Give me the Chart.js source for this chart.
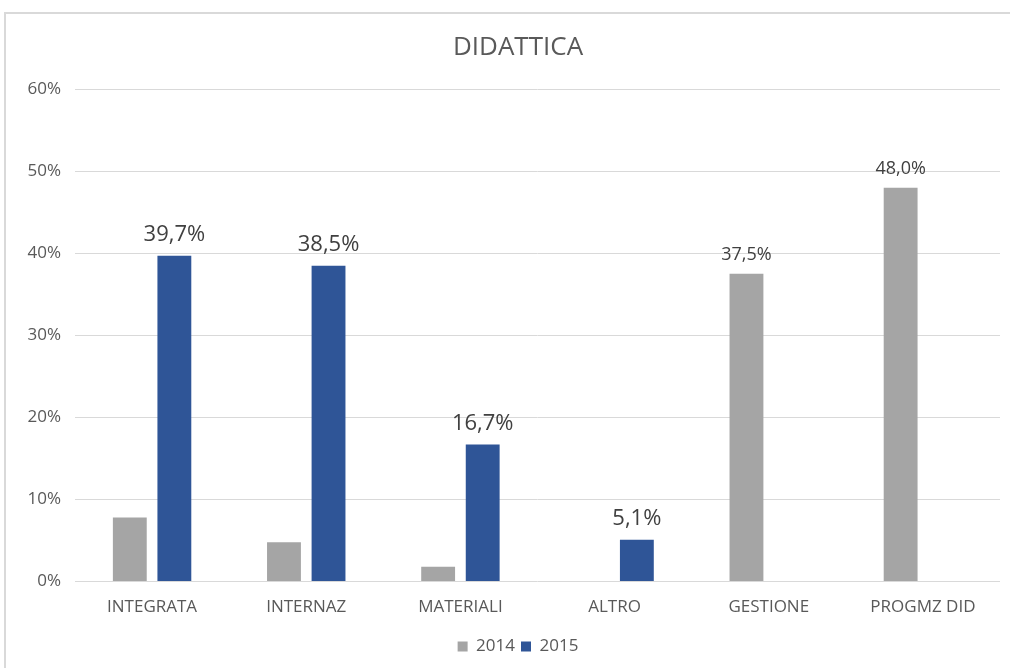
<!DOCTYPE html>
<html lang="it">
<head>
  <meta charset="UTF-8">
  <title>DIDATTICA</title>
  <script src="https://cdn.jsdelivr.net/npm/chart.js"></script>
  <style>
    * { box-sizing: border-box; margin: 0; padding: 0; }
    body { width: 1010px; height: 668px; background: #fff; overflow: hidden; position: relative; }
    .frame {
      position: absolute; left: 4px; top: 12px; width: 1040px; height: 700px;
      border: 2px solid #d9d9d9;
    }
    /* chart frame is wider than the window in the original, title/legend are centred on it */
    #chart-box { position: absolute; left: 0; top: 0; width: 1036px; height: 668px; }
  </style>
</head>
<body>
  <div class="frame"></div>
  <div id="chart-box">
    <canvas id="didattica"></canvas>
  </div>

  <script>
    // Data
    const categories = ['INTEGRATA', 'INTERNAZ', 'MATERIALI', 'ALTRO', 'GESTIONE', 'PROGMZ DID'];
    const values2014 = [7.8, 4.8, 1.8, 0, 37.5, 48.0];
    const values2015 = [39.7, 38.5, 16.7, 5.1, 0, 0];
    // which bars carry a value label
    const showLabel2014 = [false, false, false, false, true, true];
    const showLabel2015 = [true, true, true, true, false, false];
    const yTicks = [0, 10, 20, 30, 40, 50, 60];

    const FONT = '"Open Sans", sans-serif';
    const fmt = v => v.toFixed(1).replace('.', ',') + '%';

    // Simple value labels above the bars
    const barLabels = {
      id: 'barLabels',
      afterDatasetsDraw(chart) {
        const ctx = chart.ctx;
        const flags = [showLabel2014, showLabel2015];
        const sizes = [18, 22];
        const offs = [14, 15];
        chart.data.datasets.forEach((ds, di) => {
          const meta = chart.getDatasetMeta(di);
          meta.data.forEach((bar, i) => {
            if (!flags[di][i]) return;
            ctx.save();
            ctx.font = sizes[di] + 'px ' + FONT;
            ctx.fillStyle = '#404040';
            ctx.textAlign = 'center';
            ctx.textBaseline = 'alphabetic';
            ctx.fillText(fmt(ds.data[i]), bar.x, bar.y - offs[di]);
            ctx.restore();
          });
        });
      }
    };

    new Chart(document.getElementById('didattica'), {
      type: 'bar',
      data: {
        labels: categories,
        datasets: [
          { label: '2014', data: values2014, backgroundColor: '#a5a5a5' },
          { label: '2015', data: values2015, backgroundColor: '#2f5597' }
        ]
      },
      options: {
        responsive: true,
        maintainAspectRatio: false,
        animation: false,
        categoryPercentage: 0.578,
        barPercentage: 0.76,
        layout: { padding: { top: 12, right: 0, bottom: 3, left: 0 } },
        plugins: {
          title: {
            display: true,
            text: 'DIDATTICA',
            color: '#595959',
            font: { family: FONT, size: 26, weight: 'normal' },
            padding: { top: 20, bottom: 26 }
          },
          legend: {
            position: 'bottom',
            labels: {
              color: '#595959',
              font: { family: FONT, size: 17 },
              boxWidth: 10,
              boxHeight: 10,
              padding: 6
            }
          },
          tooltip: { enabled: false }
        },
        scales: {
          x: {
            grid: { display: false, drawTicks: false },
            border: { display: false },
            ticks: { color: '#595959', font: { family: FONT, size: 17 }, padding: 15, maxRotation: 0 }
          },
          y: {
            min: 0,
            max: 60,
            afterBuildTicks: s => { s.ticks = yTicks.map(v => ({ value: v })); },
            afterFit: s => { s.width = 75; },
            grid: { color: '#d9d9d9', drawTicks: false },
            border: { display: false },
            ticks: {
              color: '#595959',
              font: { family: FONT, size: 17 },
              padding: 14,
              callback: v => v + '%'
            }
          },
          // empty right-hand spacer so the plot ends where the original does
          yRight: {
            position: 'right',
            grid: { display: false, drawTicks: false },
            border: { display: false },
            ticks: { display: false },
            afterFit: s => { s.width = 36; }
          }
        }
      },
      plugins: [barLabels]
    });
  </script>
</body>
</html>
